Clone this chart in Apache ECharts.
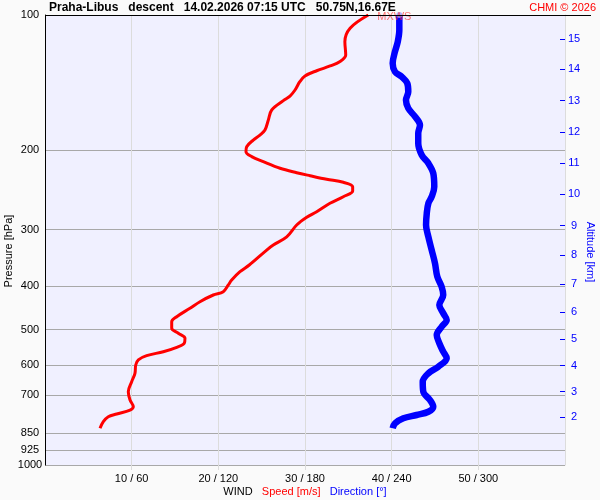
<!DOCTYPE html>
<html>
<head>
<meta charset="utf-8">
<script src="https://cdn.jsdelivr.net/npm/echarts@6/dist/echarts.min.js"></script>
<style>
html,body{margin:0;padding:0;background:#fafafa;}
#chart{width:600px;height:500px;}
</style>
</head>
<body>
<div id="chart"></div>
<script>
// ---- data ----
const speedPressure = [100,107.0,114.7,122.7,127.0,129.8,133.0,136.6,140.7,146.8,151.4,155.0,162.6,171.1,180.1,184.8,189.6,196.2,201.2,206.4,211.8,219.1,224.1,227.6,231.8,235.4,240.8,246.1,253.4,262.1,273.6,281.6,292.9,311.1,324.5,332.9,359.4,371.9,388.1,398.1,412.0,419.0,433.6,448.5,468.2,480.4,496.9,509.7,522.9,536.4,547.5,560.0,571.6,584.1,599.5,625.5,653.1,687.4,717.1,742.0,754.8,770.4,781.1,801.3,828.7];
const speedValues = [37.3,35.2,34.6,34.7,34.0,32.9,31.35,30.0,29.4,28.85,28.27,27.5,26.16,25.77,25.38,24.8,24.03,23.27,23.19,23.85,25.19,27.12,29.04,30.58,32.5,34.42,35.5,35.5,34.42,32.88,31.35,30.2,29.04,27.89,26.34,25.58,23.57,22.5,21.54,21.15,20.57,19.42,17.88,16.73,15.2,14.62,14.62,15.38,16.15,16.07,15.2,13.65,11.73,10.77,10.47,10.38,10.0,9.61,9.81,10.19,9.81,8.27,7.3,6.73,6.35];

const dirPressure = [100,108.0,114.7,120.6,128.0,133.7,137.1,141.8,148.1,154.5,161.2,168.3,175.6,183.2,192.8,204.7,213.6,224.8,240.8,253.4,262.1,275.9,292.9,311.1,332.9,356.3,381.6,401.7,419.0,441.1,460.1,476.2,492.8,514.2,536.4,560.0,579.3,604.7,625.5,653.1,687.4,717.1,742.0,761.4,774.3,787.4,807.8,828.7];
const dirValues = [245.3,245.3,244.2,242.3,240.7,242.3,246.9,250.8,251.5,249.9,251.5,256.2,259.6,258.4,258.4,260.8,265.4,268.8,269.5,267.7,265.4,264.3,263.8,265.4,267.7,270.0,271.6,274.6,275.7,273.0,275.7,278.1,274.6,271.2,273.0,275.7,278.1,272.3,265.4,261.5,261.9,266.5,268.8,265.4,257.3,248.1,242.3,240.7];

const pressureTicks = [100,200,300,400,500,600,700,850,925,1000];
const speedTicks = [10,20,30,40,50];
const directionTicks = [60,120,180,240,300];
const altitudeKm = [2,3,4,5,6,7,8,9,10,11,12,13,14,15];
const altitudePressure = [782.2,687.4,601.6,524.8,457.0,396.7,342.0,293.9,249.8,213.6,182.2,155.0,132.0,113.2];

const mxwsLabel = 'MXWS';
const titleText = 'Praha-Libus   descent   14.02.2026 07:15 UTC   50.75N,16.67E';
const creditText = 'CHMI \u00a9 2026';

// ---- build options ----
const lg = Math.log10;
const FONT = 'Liberation Sans, Arial, sans-serif';
const speedData = speedPressure.map((p, i) => [speedValues[i], lg(p)]);
const dirData = dirPressure.map((p, i) => [dirValues[i], lg(p)]);
const pLog = pressureTicks.map(lg);
const altLog = altitudePressure.map(lg);

function nearestIndex(arr, v) {
  let best = 0, bd = Infinity;
  arr.forEach((a, i) => { const d = Math.abs(a - v); if (d < bd) { bd = d; best = i; } });
  return best;
}

const chart = echarts.init(document.getElementById('chart'), null, {renderer: 'canvas'});
chart.setOption({
  backgroundColor: '#fafafa',
  animation: false,
  textStyle: {fontFamily: FONT},
  title: [
    {text: titleText, left: 49, top: 2, padding: 0,
     textStyle: {fontSize: 12, fontWeight: 'bold', color: '#000', fontFamily: FONT}},
    {text: creditText, right: 4, top: 2, padding: 0,
     textStyle: {fontSize: 11, fontWeight: 'normal', color: '#ff0000', fontFamily: FONT}}
  ],
  grid: {left: 45, right: 35, top: 15, bottom: 35, show: true,
         backgroundColor: '#f0f0ff', borderWidth: 0, containLabel: false,
         outerBoundsMode: 'none'},
  xAxis: [
    {type: 'value', min: 0, max: 60, position: 'bottom',
     axisLine: {show: false, onZero: false},
     axisTick: {show: true, length: 5, customValues: speedTicks, lineStyle: {color: '#dcdcdc'}},
     axisLabel: {customValues: speedTicks, margin: 8, fontSize: 11, color: '#000', fontFamily: FONT,
                 formatter: v => v + ' / ' + directionTicks[nearestIndex(speedTicks, v)]},
     splitLine: {show: true, lineStyle: {color: '#dcdcdc', width: 1}},
     name: '{a|WIND}   {b|Speed [m/s]}   {c|Direction [\u00b0]}',
     nameLocation: 'middle', nameGap: 21, nameMoveOverlap: false,
     nameTextStyle: {fontSize: 11, fontFamily: FONT, rich: {
       a: {color: '#000', fontSize: 11, fontFamily: FONT},
       b: {color: '#ff0000', fontSize: 11, fontFamily: FONT},
       c: {color: '#0000ff', fontSize: 11, fontFamily: FONT}}}},
    {type: 'value', min: 0, max: 360, show: false, splitLine: {show: false}, axisLine: {onZero: false}}
  ],
  yAxis: [
    {type: 'value', min: 2, max: 3, inverse: true, position: 'left',
     axisLine: {show: true, onZero: false, lineStyle: {color: '#000', width: 1}},
     axisTick: {show: false, customValues: pLog},
     axisLabel: {customValues: pLog, align: 'center', margin: 15, fontSize: 11, color: '#000', fontFamily: FONT,
                 formatter: v => String(pressureTicks[nearestIndex(pLog, v)])},
     splitLine: {show: true, lineStyle: {color: '#a8a8a8', width: 1}},
     name: 'Pressure [hPa]', nameLocation: 'middle', nameGap: 31, nameRotate: 90, nameMoveOverlap: false,
     nameTextStyle: {fontSize: 11, color: '#000', fontFamily: FONT, padding: [0, 22, 0, 0]}},
    {type: 'value', min: 2, max: 3, inverse: true, position: 'right',
     axisLine: {show: true, onZero: false, lineStyle: {color: '#dcdcdc', width: 1}},
     axisTick: {show: true, inside: true, length: 5, customValues: altLog, lineStyle: {color: '#0000ff', width: 1}},
     axisLabel: {customValues: altLog, align: 'center', margin: 9, fontSize: 11, color: '#0000ff', fontFamily: FONT,
                 formatter: v => String(altitudeKm[nearestIndex(altLog, v)])},
     splitLine: {show: false},
     name: 'Altitude [km]', nameLocation: 'middle', nameGap: 20, nameRotate: -90, nameMoveOverlap: false,
     nameTextStyle: {fontSize: 11, color: '#0000ff', fontFamily: FONT, padding: [0, 0, 0, 24]}}
  ],
  graphic: [
    {type: 'line', shape: {x1: 45, y1: 15.5, x2: 591, y2: 15.5}, style: {stroke: '#000', lineWidth: 1}, z: 100}
  ],
  series: [
    {name: 'Direction', type: 'line', xAxisIndex: 1, yAxisIndex: 0, data: dirData, smooth: 0.35,
     showSymbol: false, symbol: 'none', lineStyle: {color: '#0000ff', width: 6.5}, z: 3},
    {name: 'Speed', type: 'line', xAxisIndex: 0, yAxisIndex: 0, data: speedData, smooth: 0.35,
     showSymbol: false, symbol: 'none', lineStyle: {color: '#ff0000', width: 3}, z: 4},
    {name: 'MXWS', type: 'scatter', xAxisIndex: 1, yAxisIndex: 0,
     data: [[dirValues[0], lg(dirPressure[0])]], symbolSize: 6,
     itemStyle: {color: '#a0a0ff'}, z: 5,
     label: {show: true, formatter: mxwsLabel, position: 'inside', offset: [-5, 2],
             color: 'rgba(255,40,40,0.8)', fontSize: 11, fontFamily: FONT}}
  ]
});
</script>
</body>
</html>
